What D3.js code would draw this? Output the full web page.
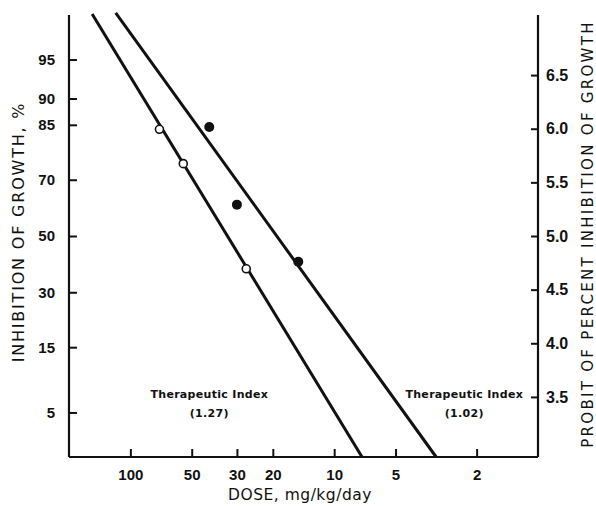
<!DOCTYPE html>
<html>
<head>
<meta charset="utf-8">
<script src="https://cdn.jsdelivr.net/npm/d3@7"></script>
<style>
  body { margin: 0; background: #fff; }
  svg { display: block; font-family: "Liberation Sans", Arial, sans-serif; }
</style>
</head>
<body>
<div id="chart"></div>
<script>
// data
const doseTicks = [100, 50, 30, 20, 10, 5, 2];
const pctTicks = [5, 15, 30, 50, 70, 85, 90, 95];
const probitTicks = [3.5, 4.0, 4.5, 5.0, 5.5, 6.0, 6.5];

// open circles
const openDose = [72, 55, 27];
const openPct = [84, 75, 38];
// filled circles
const filledDose = [41, 30, 15];
const filledPct = [84.5, 61.5, 40.5];

// fitted lines, endpoints as [dose, probit]
const openLine = [[154, 7.07], [7.3, 2.94]];
const filledLine = [[118, 7.08], [3.16, 2.94]];

const notes = [
  { dose: 41, probit: 3.49, lines: ["Therapeutic Index", "(1.27)"] },
  { dose: 2.3, probit: 3.49, lines: ["Therapeutic Index", "(1.02)"] }
];

// inverse normal cdf (Acklam), probit = z + 5
function probit(pct) {
  const p = pct / 100;
  const a = [-3.969683028665376e+01, 2.209460984245205e+02, -2.759285104469687e+02, 1.383577518672690e+02, -3.066479806614716e+01, 2.506628277459239e+00];
  const b = [-5.447609879822406e+01, 1.615858368580409e+02, -1.556989798598866e+02, 6.680131188771972e+01, -1.328068155288572e+01];
  const c = [-7.784894002430293e-03, -3.223964580411365e-01, -2.400758277161838e+00, -2.549732539343734e+00, 4.374664141464968e+00, 2.938163982698783e+00];
  const d = [7.784695709041462e-03, 3.224671290700398e-01, 2.445134137142996e+00, 3.754408661907416e+00];
  const pl = 0.02425;
  let z;
  if (p < pl) {
    const q = Math.sqrt(-2 * Math.log(p));
    z = (((((c[0]*q+c[1])*q+c[2])*q+c[3])*q+c[4])*q+c[5]) / ((((d[0]*q+d[1])*q+d[2])*q+d[3])*q+1);
  } else if (p <= 1 - pl) {
    const q = p - 0.5, r = q * q;
    z = (((((a[0]*r+a[1])*r+a[2])*r+a[3])*r+a[4])*r+a[5])*q / (((((b[0]*r+b[1])*r+b[2])*r+b[3])*r+b[4])*r+1);
  } else {
    const q = Math.sqrt(-2 * Math.log(1 - p));
    z = -(((((c[0]*q+c[1])*q+c[2])*q+c[3])*q+c[4])*q+c[5]) / ((((d[0]*q+d[1])*q+d[2])*q+d[3])*q+1);
  }
  return z + 5;
}

const width = 596, height = 506;
const plotLeft = 69, plotRight = 538, plotTop = 15, plotBottom = 457;

const svg = d3.select("#chart").append("svg")
  .attr("width", width)
  .attr("height", height);

const x = d3.scaleLog().domain([200, 1]).range([plotLeft, plotRight]);
const y = d3.scaleLinear().domain([2.94, 7.06]).range([plotBottom, plotTop]);

// left axis (percent on probit spacing)
const yLeft = d3.axisLeft(y)
  .tickValues(pctTicks.map(probit))
  .tickFormat((d, i) => pctTicks[i])
  .tickSize(-8)
  .tickPadding(14);
svg.append("g")
  .attr("transform", `translate(${plotLeft},0)`)
  .call(yLeft)
  .call(g => g.select(".domain").attr("d", `M0,${plotTop}V${plotBottom}`));

// right axis (probit)
const yRight = d3.axisRight(y)
  .tickValues(probitTicks)
  .tickFormat(d3.format(".1f"))
  .tickSize(-7)
  .tickPadding(8);
svg.append("g")
  .attr("class", "right-axis")
  .attr("transform", `translate(${plotRight},0)`)
  .call(yRight)
  .call(g => g.select(".domain").attr("d", `M0,${plotTop}V${plotBottom}`));

// bottom axis
const xAxis = d3.axisBottom(x)
  .tickValues(doseTicks)
  .tickFormat(d3.format("d"))
  .tickSize(-8)
  .tickPadding(12);
svg.append("g")
  .attr("transform", `translate(0,${plotBottom})`)
  .call(xAxis)
  .call(g => g.select(".domain").attr("d", `M${plotLeft},0H${plotRight}`));

svg.selectAll(".domain").attr("stroke", "#111").attr("stroke-width", 2.2);
svg.selectAll(".tick line").attr("stroke", "#111").attr("stroke-width", 2);
svg.selectAll(".tick text")
  .attr("fill", "#111")
  .style("font-size", "15px")
  .style("font-weight", "bold")
  .style("font-family", "'Liberation Sans', Arial, sans-serif");
svg.selectAll(".right-axis .tick text").style("font-size", "16px");

// axis titles
svg.append("text")
  .attr("transform", `translate(24,232) rotate(-90)`)
  .attr("text-anchor", "middle")
  .style("font-size", "16px")
  .style("font-family", "'DejaVu Sans', sans-serif")
  .style("letter-spacing", "1.8px")
  .attr("fill", "#111")
  .text("INHIBITION OF GROWTH, %");

svg.append("text")
  .attr("transform", `translate(593,234) rotate(-90)`)
  .attr("text-anchor", "middle")
  .style("font-size", "15px")
  .style("font-family", "'DejaVu Sans', sans-serif")
  .style("letter-spacing", "2.3px")
  .attr("fill", "#111")
  .text("PROBIT OF PERCENT INHIBITION OF GROWTH");

svg.append("text")
  .attr("x", 300)
  .attr("y", 500)
  .attr("text-anchor", "middle")
  .style("font-size", "15.5px")
  .style("font-family", "'DejaVu Sans', sans-serif")
  .style("letter-spacing", "0.5px")
  .attr("fill", "#111")
  .text("DOSE, mg/kg/day");

// regression lines
const line = d3.line().x(d => x(d[0])).y(d => y(d[1]));
svg.selectAll(".fit")
  .data([openLine, filledLine])
  .enter()
  .append("path")
  .attr("class", "fit")
  .attr("d", line)
  .attr("fill", "none")
  .attr("stroke", "#111")
  .attr("stroke-width", 3);

// points
const openPts = openDose.map((d, i) => ({ dose: d, pct: openPct[i] }));
const filledPts = filledDose.map((d, i) => ({ dose: d, pct: filledPct[i] }));

svg.selectAll(".open")
  .data(openPts)
  .enter()
  .append("circle")
  .attr("class", "open")
  .attr("cx", d => x(d.dose))
  .attr("cy", d => y(probit(d.pct)))
  .attr("r", 4)
  .attr("fill", "#fff")
  .attr("stroke", "#111")
  .attr("stroke-width", 1.6);

svg.selectAll(".filled")
  .data(filledPts)
  .enter()
  .append("circle")
  .attr("class", "filled")
  .attr("cx", d => x(d.dose))
  .attr("cy", d => y(probit(d.pct)))
  .attr("r", 5)
  .attr("fill", "#111");

// therapeutic index notes
const noteG = svg.selectAll(".note")
  .data(notes)
  .enter()
  .append("text")
  .attr("class", "note")
  .attr("text-anchor", "middle")
  .style("font-size", "11px")
  .style("font-weight", "bold")
  .style("letter-spacing", "0.3px")
  .style("font-family", "'DejaVu Sans', sans-serif")
  .attr("fill", "#111");

noteG.selectAll("tspan")
  .data(d => d.lines.map((t, i) => ({ t, i, d })))
  .enter()
  .append("tspan")
  .attr("x", d => x(d.d.dose))
  .attr("y", d => y(d.d.probit) + d.i * 19)
  .text(d => d.t);
</script>
</body>
</html>
